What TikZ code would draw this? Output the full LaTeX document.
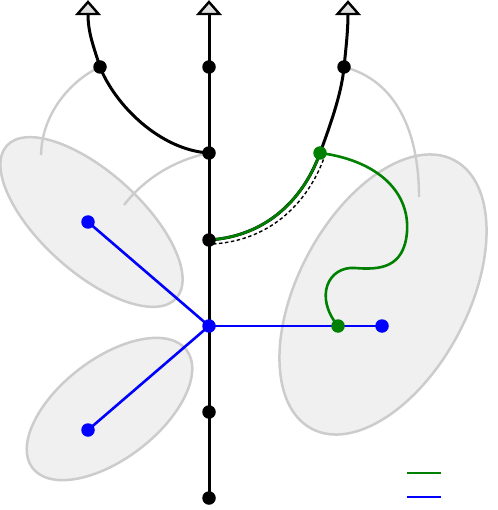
\documentclass[tikz,border=0pt]{standalone}
\definecolor{ggreen}{RGB}{0,128,0}
\definecolor{ellfill}{RGB}{240,240,240}
\definecolor{ellline}{RGB}{204,204,204}
\definecolor{tipfill}{RGB}{224,224,224}
\begin{document}
\begin{tikzpicture}[x=1pt,y=-1pt,
  dot/.style={circle,fill=black,inner sep=0pt,minimum size=13.5pt},
  bdot/.style={dot,fill=blue},
  gdot/.style={dot,fill=ggreen},
  stem/.style={line width=3pt,black},
  tipshape/.style={line width=2.4pt,draw=black,fill=tipfill,line join=miter},
  gline/.style={line width=2.6pt,ggreen},
  bline/.style={line width=2.6pt,blue},
  garc/.style={line width=2.4pt,ellline},
  blob/.style={line width=2.5pt,draw=ellline,fill=ellfill}
]
\useasboundingbox (0,0) rectangle (497,510);
% ellipses
\draw[blob,rotate around={-42:(91.5,222)}] (91.5,222) ellipse [x radius=114, y radius=50];
\draw[blob,rotate around={37.5:(109.5,409)}] (109.5,409) ellipse [x radius=97, y radius=50];
\draw[blob,rotate around={62:(383,294.5)}] (383,294.5) ellipse [x radius=152, y radius=85];
% coordinates
\coordinate (c1) at (209,67);
\coordinate (c2) at (209,153);
\coordinate (c3) at (209,240);
\coordinate (b0) at (209,326);
\coordinate (c5) at (209,412);
\coordinate (c6) at (209,498);
\coordinate (ctop) at (209,14);
\coordinate (l1) at (100,67);
\coordinate (ltop) at (88,14);
\coordinate (r1) at (344,67);
\coordinate (rtop) at (348,14);
\coordinate (g1) at (320,153);
\coordinate (g2) at (338,326);
\coordinate (bl1) at (88,222);
\coordinate (bl2) at (88,430);
\coordinate (br) at (382,326);
\coordinate (lg1) at (407,473);
\coordinate (lg2) at (441,473);
\coordinate (lb1) at (407,497);
\coordinate (lb2) at (441,497);
% grey arcs
\draw[garc] (l1) .. controls (75,78) and (42,110) .. (41,155);
\draw[garc] (c2) .. controls (175,160) and (145,178) .. (124,205);
\draw[garc] (r1) .. controls (395,80) and (419,130) .. (419,197);
% black stems
\draw[stem] (c6) -- (ctop);
\draw[stem] (c2) .. controls (160,150) and (115,105) .. (l1) .. controls (93,45) and (88,32) .. (ltop);
\draw[stem] (c3) .. controls (270,236) and (305,195) .. (g1) .. controls (333,118) and (342,90) .. (r1) .. controls (346,48) and (348,30) .. (rtop);
% arrow heads
\draw[tipshape] (ctop) ++(-10.5,0) -- ++(10.5,-12) -- ++(10.5,12) -- cycle;
\draw[tipshape] (ltop) ++(-10.5,0) -- ++(10.5,-12) -- ++(10.5,12) -- cycle;
\draw[tipshape] (rtop) ++(-10.5,0) -- ++(10.5,-12) -- ++(10.5,12) -- cycle;
% dashed companion
\draw[black,line width=1.4pt,dash pattern=on 3.5pt off 2.5pt] (213,244) .. controls (274,240) and (309,199) .. (324,158);
% green
\draw[gline] (c3) .. controls (270,236) and (305,195) .. (g1);
\draw[gline] (g1) .. controls (375,160) and (410,190) .. (407,232) .. controls (404,268) and (380,270) .. (355,268) .. controls (328,266) and (314,297) .. (g2);
% blue
\draw[bline] (b0) -- (bl1);
\draw[bline] (b0) -- (bl2);
\draw[bline] (b0) -- (br);
% legend
\draw[gline] (lg1) -- (lg2);
\draw[bline] (lb1) -- (lb2);
% dots
\node[dot] (n1) at (c1) {};
\node[dot] (n2) at (c2) {};
\node[dot] (n3) at (c3) {};
\node[dot] (n5) at (c5) {};
\node[dot] (n6) at (c6) {};
\node[dot] (nl1) at (l1) {};
\node[dot] (nr1) at (r1) {};
\node[gdot] (ng1) at (g1) {};
\node[bdot] (nb0) at (b0) {};
\node[bdot] (nbl1) at (bl1) {};
\node[bdot] (nbl2) at (bl2) {};
\node[bdot] (nbr) at (br) {};
\node[gdot] (ng2) at (g2) {};
\end{tikzpicture}
\end{document}
